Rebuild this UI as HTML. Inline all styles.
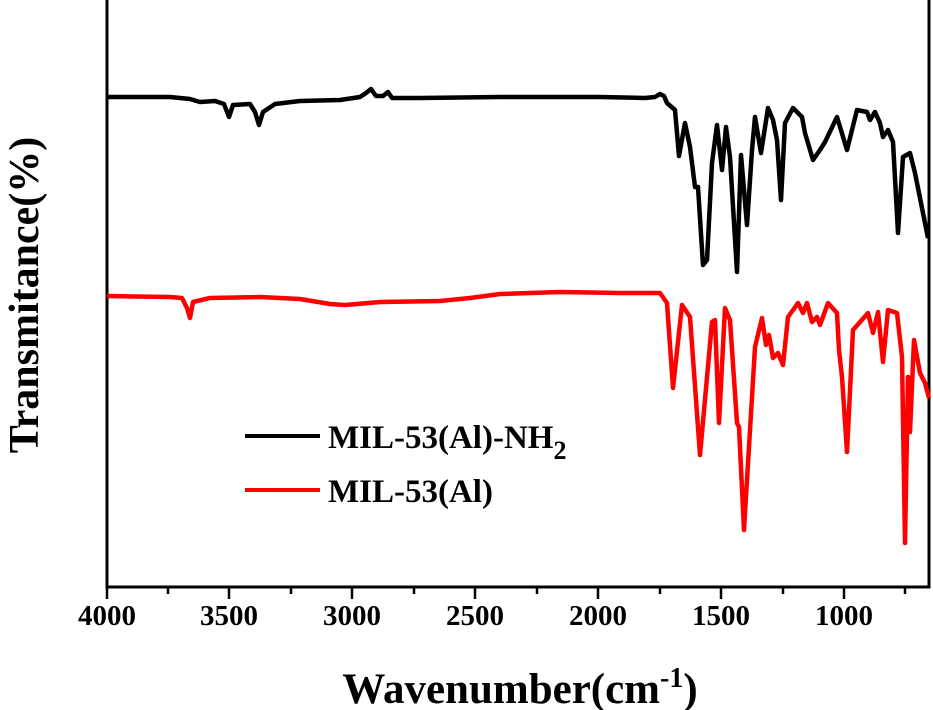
<!DOCTYPE html>
<html><head><meta charset="utf-8"><style>
body{margin:0;background:#fff}
svg{display:block;font-family:"Liberation Serif",serif;font-weight:bold}
</style></head><body>
<svg width="933" height="710" viewBox="0 0 933 710">
<g stroke="#000" stroke-width="3" fill="none">
<line x1="107" y1="0" x2="107" y2="587"/>
<line x1="929" y1="0" x2="929" y2="587"/>
<line x1="105.5" y1="587" x2="930.5" y2="587"/>
</g>
<g stroke="#000" stroke-width="2.5">
<line x1="107" y1="587" x2="107" y2="599"/><line x1="168" y1="587" x2="168" y2="594"/>
<line x1="229" y1="587" x2="229" y2="599"/><line x1="291" y1="587" x2="291" y2="594"/>
<line x1="352" y1="587" x2="352" y2="599"/><line x1="414" y1="587" x2="414" y2="594"/>
<line x1="475" y1="587" x2="475" y2="599"/><line x1="537" y1="587" x2="537" y2="594"/>
<line x1="598" y1="587" x2="598" y2="599"/><line x1="660" y1="587" x2="660" y2="594"/>
<line x1="721" y1="587" x2="721" y2="599"/><line x1="783" y1="587" x2="783" y2="594"/>
<line x1="844" y1="587" x2="844" y2="599"/><line x1="905" y1="587" x2="905" y2="594"/>
</g>
<g font-size="29" text-anchor="middle">
<text x="107" y="625">4000</text><text x="229" y="625">3500</text><text x="352" y="625">3000</text>
<text x="475" y="625">2500</text><text x="598" y="625">2000</text><text x="721" y="625">1500</text>
<text x="844" y="625">1000</text>
</g>
<text x="520" y="703" font-size="43" text-anchor="middle">Wavenumber(cm<tspan font-size="28" dy="-16">-1</tspan><tspan dy="16">)</tspan></text>
<text transform="translate(38,295) rotate(-90)" font-size="42" text-anchor="middle">Transmitance(%)</text>
<polyline fill="none" stroke="#000" stroke-width="4.5" stroke-linejoin="round" points="107,97 170,97 190,99 200,102 215,101 224,104 229,117 233,105 250,104 255,112 259,125 263,112 275,104 300,101 340,100 360,97 366,93 371,89 376,96 383,96 388,92 392,98 420,98 500,97 600,97 645,98 655,97 660,94 664,96 667,103 675,110 679,156 685,123 690,147 695,187 698,187 703,265 707,260 712,163 717,125 722,170 726,127 730,157 737,272 741,155 747,225 752,150 755,117 761,153 768,108 773,120 777,140 781,200 785,123 793,108 802,117 805,133 813,160 820,150 825,142 837,117 847,150 857,110 867,112 870,120 875,112 880,123 883,137 888,130 893,142 898,233 903,157 910,153 915,173 928,238"/>
<polyline fill="none" stroke="#f00" stroke-width="4.5" stroke-linejoin="round" points="107,296 170,297 182,298 187,308 190,318 193,302 210,298 260,297 300,299 330,304 345,305 380,302 440,301 470,298 500,294 560,292 620,293 640,293 660,293 667,303 673,388 682,305 690,317 700,455 712,322 715,320 719,423 725,308 730,320 737,423 739,427 744,530 755,347 762,318 766,345 769,335 773,358 778,353 783,365 788,317 798,303 803,313 807,303 812,322 817,317 820,325 828,303 837,313 839,350 842,377 847,452 853,330 868,313 873,333 878,312 883,362 888,310 897,313 902,357 905,543 908,377 910,432 914,340 920,373 925,383 929,398"/>
<line x1="245" y1="436" x2="320" y2="436" stroke="#000" stroke-width="4"/>
<line x1="245" y1="490" x2="320" y2="490" stroke="#f00" stroke-width="4"/>
<text x="328" y="448" font-size="33">MIL-53(Al)-NH<tspan font-size="26" dy="11">2</tspan></text>
<text x="328" y="502" font-size="33">MIL-53(Al)</text>
</svg>
</body></html>
